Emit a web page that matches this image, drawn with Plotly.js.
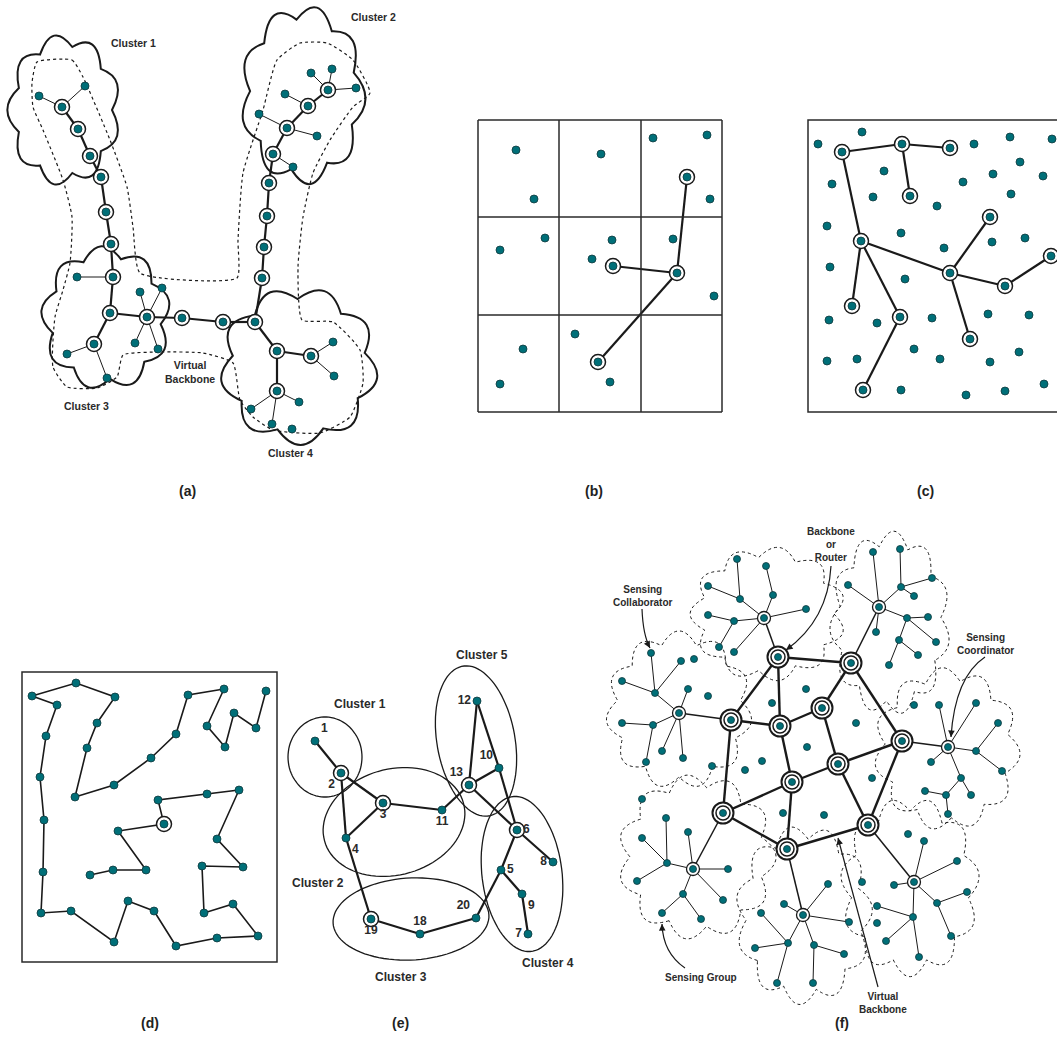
<!DOCTYPE html>
<html><head><meta charset="utf-8">
<script src="https://cdn.plot.ly/plotly-3.0.1.min.js"></script>
<style>html,body{margin:0;padding:0;background:#fff}#chart{width:1057px;height:1062px}</style>
</head><body><div id="chart"></div>
<script>
// ---------------- Panel (a) ----------------
const aNodesX = [39,85,62,78,90,101,106,111,113,77,110,147,140,162,135,158,94,67,107,182,223,255,277,311,333,334,277,299,251,272,292,262,264,267,269,273,293,287,259,317,308,285,328,311,332,356];
const aNodesY = [96,86,107,129,156,177,212,244,277,277,313,317,292,288,343,349,344,354,378,318,322,322,351,356,342,376,391,402,409,424,429,278,247,216,183,154,167,128,114,136,106,94,90,73,69,88];
const aRing = [2,3,4,5,6,7,8,10,11,16,19,20,21,22,23,26,31,32,33,34,35,37,40,42];
const aThick = [[2,3],[3,4],[4,5],[5,6],[6,7],[7,8],[8,10],[10,16],[10,11],[11,19],[19,20],[20,21],[21,31],[31,32],[32,33],[33,34],[34,35],[35,37],[37,40],[40,42],[21,22],[22,23],[22,26]];
const aThin = [[0,2],[1,2],[9,8],[11,12],[11,13],[11,14],[11,15],[16,17],[16,18],[35,36],[37,38],[37,39],[40,41],[42,43],[42,44],[42,45],[23,24],[23,25],[26,27],[26,28],[26,29]];
const aCloudCX = [64,303,106,299];
const aCloudCY = [110,95,318,366];
const aCloudRX = [48,53,55,67];
const aCloudRY = [64,76,61,67];
const aOutlineX = [37,72,83,110,127,133,140,237,238,243,263,277,300,327,353,370,353,330,313,303,298,302,333,360,363,350,320,273,253,240,233,203,163,123,117,97,67,53,55,63,70,72,63,43,33,32,37];
const aOutlineY = [62,60,77,140,187,227,273,278,240,173,110,60,43,43,60,93,107,140,173,217,267,320,322,350,383,417,433,430,417,400,363,353,352,355,377,388,387,367,317,290,263,217,180,130,107,83,62];
const aLabels = ['Cluster 1','Cluster 2','Cluster 3','Cluster 4','Virtual<br>Backbone'];
const aLabelX = [133,373,86,290,190];
const aLabelY = [43,17,406,453,372];

// ---------------- Panel (b) ----------------
const bNodesX = [516,534,601,653,707,687,710,500,545,612,592,613,673,677,714,523,500,575,598,610];
const bNodesY = [150,199,154,138,135,177,199,250,238,240,259,266,239,273,296,349,384,334,362,382];
const bRing = [5,11,13,18];
const bThick = [[5,13],[11,13],[13,18]];
const bGridX = [478,559,641,722];
const bGridY = [120,217,315,412];

// ---------------- Panel (c) ----------------
const cNodesX = [818,862,842,902,950,974,1010,1052,1020,993,1043,832,884,963,873,910,1011,937,990,827,861,901,992,1025,944,1051,830,950,905,1005,852,829,877,900,932,988,1029,970,914,827,857,940,990,1019,863,901,966,1005,1044];
const cNodesY = [144,132,152,144,148,144,137,139,162,174,176,184,171,182,197,196,194,206,217,226,241,233,242,238,248,256,267,273,279,286,306,320,323,317,318,314,315,339,349,361,359,359,362,352,390,390,395,391,384];
const cRing = [2,3,4,15,18,20,25,27,29,30,33,37,44];
const cThick = [[2,3],[3,4],[3,15],[2,20],[20,30],[20,33],[33,44],[20,27],[27,18],[27,29],[29,25],[27,37]];
const cBox = [808,1070,120,412];

// ---------------- Panel (d) ----------------
const dPathX = [266,256,234,225,207,224,188,176,151,114,75,87,97,115,76,32,57,46,40,44,43,41,71,114,128,154,176,217,258,233,204,202,243,217,239,207,158,164,118,146,113,90];
const dPathY = [691,728,713,747,726,689,695,734,758,785,797,748,723,697,683,696,705,736,777,820,872,913,911,942,901,911,946,938,936,904,913,866,867,839,790,794,800,824,831,870,870,875];
const dRing = [37];
const dBox = [22,277,672,962];

// ---------------- Panel (e) ----------------
const eLabels = ['1','2','3','4','5','6','7','8','9','10','11','12','13','18','19','20'];
const eNodesX = [315,341,383,346,501,517,528,553,522,499,442,477,469,420,371,476];
const eNodesY = [741,773,803,838,870,830,934,862,894,768,810,701,785,934,919,918];
const eTextPos = ['top right','bottom left','bottom center','bottom right','middle right','middle right','middle left','middle left','bottom right','top left','bottom center','middle left','top left','top center','bottom center','top left'];
const eRing = [1,2,5,12,14];
const eEdges = [[0,1],[1,2],[1,3],[2,3],[2,10],[10,12],[12,11],[12,9],[11,9],[9,5],[12,5],[5,7],[5,4],[4,15],[4,8],[8,6],[3,14],[14,13],[13,15]];
const eEllCX = [325,394,411,522,476];
const eEllCY = [757,822,919,874,741];
const eEllRX = [37,72,78,40,39];
const eEllRY = [40,53,41,78,76];
const eEllRot = [0,-15,-3,-7,-10];
const eClusterLabels = ['Cluster 1','Cluster 2','Cluster 3','Cluster 4','Cluster 5'];
const eClusterX = [360,318,401,548,482];
const eClusterY = [704,883,977,963,655];

// ---------------- Panel (f) ----------------
const fBackX = [778,851,731,780,822,902,838,792,723,868,787];
const fBackY = [657,663,720,726,708,741,764,782,813,825,849];
const fBackEdges = [[0,1],[0,2],[0,3],[1,4],[1,5],[2,3],[3,4],[2,8],[3,7],[4,6],[5,6],[5,9],[6,7],[6,9],[7,8],[7,10],[8,10],[10,9]];
const fCoordX = [764,879,679,948,693,803,914];
const fCoordY = [618,607,713,747,869,915,882];
const fCoordBack = [0,1,2,5,8,10,9];
// sensing nodes: index 0..6 are coordinators, then members
const fNodesX = [764,879,679,948,693,803,914,
  734,708,719,734,740,708,737,773,766,806,
  873,848,876,901,900,932,914,907,928,936,899,889,918,
  655,651,681,622,653,622,646,688,662,683,
  939,976,931,976,998,1002,961,946,925,948,971,
  667,666,642,637,688,728,723,683,662,701,
  784,828,849,788,761,755,777,814,844,813,
  924,957,894,937,967,951,913,877,886,919];
const fNodesY = [618,607,713,747,869,915,882,
  621,615,647,652,599,586,559,595,566,609,
  552,585,632,587,549,578,596,618,617,642,640,665,655,
  693,653,661,681,725,723,762,689,751,758,
  705,703,762,751,723,771,778,795,791,814,795,
  863,818,838,881,832,869,900,894,913,919,
  904,884,922,943,913,948,983,945,954,983,
  841,861,885,903,892,936,917,906,941,957];
const fThin = [[0,7],[7,8],[7,9],[0,10],[0,11],[11,12],[11,13],[0,14],[14,15],[0,16],
  [1,17],[1,18],[1,19],[1,20],[20,21],[20,22],[20,23],[1,24],[24,25],[24,26],[24,27],[27,28],[27,29],
  [2,30],[30,31],[30,32],[30,33],[2,34],[34,35],[34,36],[2,37],[2,38],[2,39],
  [3,40],[3,41],[3,42],[3,43],[43,44],[43,45],[3,46],[46,47],[47,48],[47,49],[46,50],
  [4,51],[51,52],[51,53],[51,54],[4,55],[4,56],[4,57],[4,58],[58,59],[58,60],
  [5,61],[5,62],[5,63],[5,64],[64,65],[64,66],[64,67],[5,68],[68,69],[68,70],
  [6,71],[6,72],[6,73],[6,74],[74,75],[74,76],[6,77],[77,78],[77,79],[77,80]];
const fStrayX = [806,772,856,807,762,745,712,872,783,824,694,708,914,642,877,862,908];
const fStrayY = [689,703,723,747,761,770,766,778,813,815,659,696,705,799,923,882,834];
const fCloudCX = [768,890,679,947,697,804,910];
const fCloudCY = [614,623,710,749,857,915,887];
const fCloudRX = [66,51,62,62,67,58,59];
const fCloudRY = [57,78,67,69,70,76,76];
const fLabels = ['Backbone<br>or<br>Router','Sensing<br>Collaborator','Sensing<br>Coordinator','Sensing Group','Virtual<br>Backbone'];
const fLabelX = [831,643,985,701,883];
const fLabelY = [544,596,644,977,1003];
// curved arrows: start, control, tip
const fArrowSX = [831,642,985,685,878];
const fArrowSY = [566,609,657,968,987];
const fArrowCX = [828,643,955,663,858];
const fArrowCY = [620,635,677,953,912];
const fArrowEX = [786,650,951,662,838];
const fArrowEY = [650,648,737,924,838];

const panelLabels = ['(a)','(b)','(c)','(d)','(e)','(f)'];
const panelLabelX = [187,594,925,150,400,842];
const panelLabelY = [491,491,491,1023,1023,1023];

// ---------------- helpers ----------------
const TEAL = '#006f78', DOT_LINE = '#10383c', INK = '#1a1a1a';
const FONT = 'Liberation Sans Narrow, Liberation Sans, Arial, sans-serif';
const traces = [], shapes = [], annotations = [];

function edgeTrace(xs, ys, pairs, width) {
  const x = [], y = [];
  pairs.forEach(([i, j]) => { x.push(xs[i], xs[j], null); y.push(ys[i], ys[j], null); });
  return {type:'scatter', mode:'lines', x, y, line:{color:INK, width}, hoverinfo:'skip'};
}
function pathTrace(xs, ys, width) {
  return {type:'scatter', mode:'lines', x:xs, y:ys, line:{color:INK, width}, hoverinfo:'skip'};
}
function ringTrace(xs, ys, idx, size, lw) {
  return {type:'scatter', mode:'markers', x:idx.map(i=>xs[i]), y:idx.map(i=>ys[i]),
    marker:{symbol:'circle', size, color:'#ffffff', line:{color:INK, width:lw}}, hoverinfo:'skip'};
}
function dotTrace(xs, ys, size) {
  return {type:'scatter', mode:'markers', x:xs, y:ys,
    marker:{symbol:'circle', size:size||8, color:TEAL, line:{color:DOT_LINE, width:0.8}}, hoverinfo:'skip'};
}
function cloudPath(cx, cy, rx, ry, n, phase, k) {
  let d = '';
  for (let i = 0; i < n; i++) {
    const a0 = phase + 2*Math.PI*i/n, a1 = phase + 2*Math.PI*(i+1)/n, am = (a0+a1)/2;
    const x0 = cx + rx*Math.cos(a0), y0 = cy + ry*Math.sin(a0);
    const x1 = cx + rx*Math.cos(a1), y1 = cy + ry*Math.sin(a1);
    const qx = cx + rx*k*Math.cos(am), qy = cy + ry*k*Math.sin(am);
    if (i === 0) d += 'M' + x0.toFixed(1) + ',' + y0.toFixed(1);
    d += ' Q' + qx.toFixed(1) + ',' + qy.toFixed(1) + ' ' + x1.toFixed(1) + ',' + y1.toFixed(1);
  }
  return d + ' Z';
}
function ellipsePath(cx, cy, rx, ry, deg) {
  const t = deg*Math.PI/180; let d = '';
  for (let i = 0; i <= 90; i++) {
    const a = 2*Math.PI*i/90, ex = rx*Math.cos(a), ey = ry*Math.sin(a);
    const x = cx + ex*Math.cos(t) - ey*Math.sin(t), y = cy + ex*Math.sin(t) + ey*Math.cos(t);
    d += (i ? ' L' : 'M') + x.toFixed(1) + ',' + y.toFixed(1);
  }
  return d + ' Z';
}
function label(text, x, y, size, extra) {
  annotations.push(Object.assign({x, y, xref:'x', yref:'y', text:'<b>'+text+'</b>', showarrow:false,
    font:{family:FONT, size, color:'#2a2a2a'}, xanchor:'center', yanchor:'middle'}, extra||{}));
}

// ---------------- panel (a) ----------------
traces.push({type:'scatter', mode:'lines', x:aOutlineX, y:aOutlineY,
  line:{color:INK, width:1.2, dash:'dot', shape:'spline', smoothing:0.5}, hoverinfo:'skip'});
aCloudCX.forEach((cx, i) => shapes.push({type:'path', xref:'x', yref:'y', layer:'below',
  path:cloudPath(cx, aCloudCY[i], aCloudRX[i], aCloudRY[i], 9, 0.4*i, 1.42), line:{color:INK, width:2}, fillcolor:'rgba(0,0,0,0)'}));
traces.push(edgeTrace(aNodesX, aNodesY, aThin, 1));
traces.push(edgeTrace(aNodesX, aNodesY, aThick, 2.2));
traces.push(ringTrace(aNodesX, aNodesY, aRing, 15, 1.5));
traces.push(dotTrace(aNodesX, aNodesY, 8));
aLabels.forEach((t, i) => label(t, aLabelX[i], aLabelY[i], 10.5));

// ---------------- panel (b) ----------------
bGridX.forEach(x => shapes.push({type:'line', xref:'x', yref:'y', x0:x, x1:x, y0:bGridY[0], y1:bGridY[3], line:{color:'#2a2a2a', width:1.5}}));
bGridY.forEach(y => shapes.push({type:'line', xref:'x', yref:'y', y0:y, y1:y, x0:bGridX[0], x1:bGridX[3], line:{color:'#2a2a2a', width:1.5}}));
traces.push(edgeTrace(bNodesX, bNodesY, bThick, 2.2));
traces.push(ringTrace(bNodesX, bNodesY, bRing, 15, 1.5));
traces.push(dotTrace(bNodesX, bNodesY, 8));

// ---------------- panel (c) ----------------
shapes.push({type:'rect', xref:'x', yref:'y', x0:cBox[0], x1:cBox[1], y0:cBox[2], y1:cBox[3], line:{color:'#2a2a2a', width:1.5}});
traces.push(edgeTrace(cNodesX, cNodesY, cThick, 2.2));
traces.push(ringTrace(cNodesX, cNodesY, cRing, 15, 1.5));
traces.push(dotTrace(cNodesX, cNodesY, 8));

// ---------------- panel (d) ----------------
shapes.push({type:'rect', xref:'x', yref:'y', x0:dBox[0], x1:dBox[1], y0:dBox[2], y1:dBox[3], line:{color:'#2a2a2a', width:1.5}});
traces.push(pathTrace(dPathX, dPathY, 1.6));
traces.push(ringTrace(dPathX, dPathY, dRing, 15, 1.5));
traces.push(dotTrace(dPathX, dPathY, 8));

// ---------------- panel (e) ----------------
eEllCX.forEach((cx, i) => shapes.push({type:'path', xref:'x', yref:'y', layer:'below',
  path:ellipsePath(cx, eEllCY[i], eEllRX[i], eEllRY[i], eEllRot[i]), line:{color:INK, width:1.3}}));
traces.push(edgeTrace(eNodesX, eNodesY, eEdges, 2.2));
traces.push(ringTrace(eNodesX, eNodesY, eRing, 15, 1.5));
traces.push({type:'scatter', mode:'markers+text', x:eNodesX, y:eNodesY, text:eLabels.map(s=>'<b>'+s+'</b>'),
  textposition:eTextPos, textfont:{family:FONT, size:12, color:'#2a2a2a'},
  marker:{symbol:'circle', size:8, color:TEAL, line:{color:DOT_LINE, width:0.8}}, hoverinfo:'skip'});
eClusterLabels.forEach((t, i) => label(t, eClusterX[i], eClusterY[i], 12));

// ---------------- panel (f) ----------------
fCloudCX.forEach((cx, i) => shapes.push({type:'path', xref:'x', yref:'y', layer:'below',
  path:cloudPath(cx, fCloudCY[i], fCloudRX[i], fCloudRY[i], 11, 0.5*i, 1.4), line:{color:INK, width:1, dash:'dot'}}));
traces.push(edgeTrace(fNodesX, fNodesY, fThin, 1));
{
  const x = [], y = [];
  fCoordBack.forEach((b, i) => { x.push(fCoordX[i], fBackX[b], null); y.push(fCoordY[i], fBackY[b], null); });
  traces.push({type:'scatter', mode:'lines', x, y, line:{color:INK, width:1.5}, hoverinfo:'skip'});
}
traces.push(edgeTrace(fBackX, fBackY, fBackEdges, 2.4));
traces.push({type:'scatter', mode:'markers', x:fBackX, y:fBackY, marker:{symbol:'circle', size:21, color:'#fff', line:{color:INK, width:2}}, hoverinfo:'skip'});
traces.push({type:'scatter', mode:'markers', x:fBackX, y:fBackY, marker:{symbol:'circle', size:14, color:'#fff', line:{color:INK, width:1.5}}, hoverinfo:'skip'});
traces.push(ringTrace(fCoordX, fCoordY, fCoordX.map((_, i)=>i), 13, 1.3));
traces.push(dotTrace(fNodesX, fNodesY, 7));
traces.push(dotTrace(fBackX, fBackY, 7));
traces.push(dotTrace(fStrayX, fStrayY, 7));
fArrowSX.forEach((sx, i) => {
  shapes.push({type:'path', xref:'x', yref:'y', path:'M'+sx+','+fArrowSY[i]+' Q'+fArrowCX[i]+','+fArrowCY[i]+' '+fArrowEX[i]+','+fArrowEY[i], line:{color:INK, width:1.2}});
  const dx = fArrowCX[i]-fArrowEX[i], dy = fArrowCY[i]-fArrowEY[i], L = Math.hypot(dx, dy);
  annotations.push({x:fArrowEX[i], y:fArrowEY[i], xref:'x', yref:'y', text:'', showarrow:true,
    arrowhead:2, arrowsize:1.1, arrowwidth:1.2, arrowcolor:INK, ax:dx/L*8, ay:dy/L*8});
});
fLabels.forEach((t, i) => label(t, fLabelX[i], fLabelY[i], 10));

// panel letters
panelLabels.forEach((t, i) => label(t, panelLabelX[i], panelLabelY[i], 14, {font:{family:'Liberation Sans, Arial, sans-serif', size:14, color:'#222'}}));

const layout = {
  width:1057, height:1062, margin:{l:0, r:0, t:0, b:0}, showlegend:false,
  paper_bgcolor:'#ffffff', plot_bgcolor:'#ffffff',
  xaxis:{range:[0,1057], visible:false, fixedrange:true},
  yaxis:{range:[1062,0], visible:false, fixedrange:true},
  shapes, annotations
};
Plotly.newPlot('chart', traces, layout, {staticPlot:true, displayModeBar:false});
</script></body></html>
